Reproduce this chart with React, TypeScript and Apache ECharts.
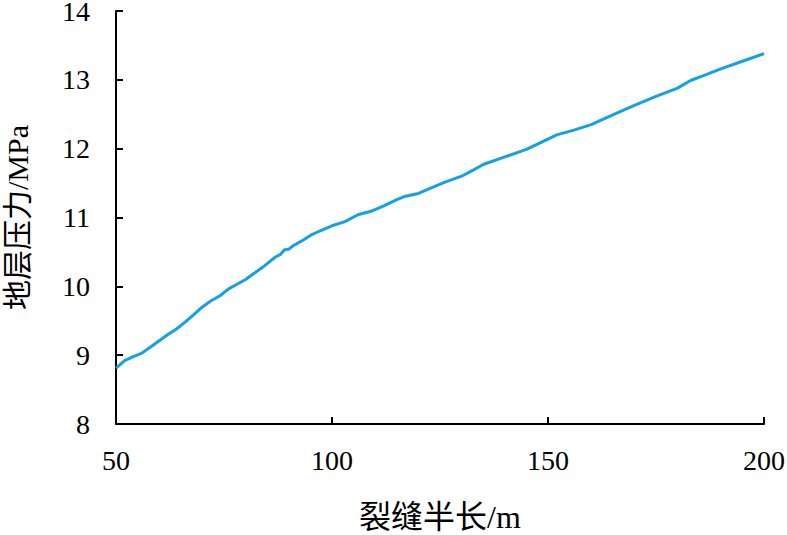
import React, { useEffect, useRef } from "react";
import * as echarts from "echarts";

const halfLength = [50, 52, 54, 56, 58, 60, 62, 64, 66, 68, 70, 72, 74, 76, 78, 80, 82, 84, 86, 87, 88, 89, 90, 91, 93, 95, 97, 100, 103, 106, 109, 112, 115, 117, 120, 123, 126, 130, 133, 135, 140, 145, 150, 152, 156, 160, 165, 170, 175, 180, 183, 186, 190, 195, 200];
const pressure = [8.81, 8.92, 8.98, 9.03, 9.12, 9.21, 9.3, 9.38, 9.48, 9.59, 9.7, 9.79, 9.86, 9.96, 10.03, 10.1, 10.19, 10.28, 10.38, 10.43, 10.46, 10.53, 10.54, 10.59, 10.66, 10.74, 10.8, 10.88, 10.94, 11.04, 11.09, 11.17, 11.26, 11.31, 11.35, 11.43, 11.51, 11.6, 11.7, 11.77, 11.88, 11.99, 12.14, 12.2, 12.27, 12.35, 12.49, 12.63, 12.76, 12.88, 12.99, 13.06, 13.16, 13.27, 13.38];

const xName = "裂缝半长/m";
const yName = "地层压力/MPa";

const font = "Liberation Serif, Noto Sans CJK SC, serif";

export default function App() {
  const ref = useRef<HTMLDivElement>(null);
  useEffect(() => {
    if (!ref.current) return;
    const chart = echarts.init(ref.current, null, { renderer: "svg" });
    chart.setOption({
      animation: false,
      backgroundColor: "#ffffff",
      grid: { left: 116, right: 23, top: 11, bottom: 111, containLabel: false, outerBoundsMode: "none" },
      xAxis: {
        type: "value",
        min: 50,
        max: 200,
        interval: 50,
        name: xName,
        nameLocation: "middle",
        nameGap: 77,
        nameTextStyle: { fontSize: 32, lineHeight: 32, color: "#000", fontFamily: font },
        axisLine: { show: true, lineStyle: { color: "#000", width: 2 } },
        axisTick: { show: true, inside: true, length: 7, lineStyle: { color: "#000", width: 2 } },
        axisLabel: { fontSize: 28, color: "#000", fontFamily: font, margin: 22 },
        splitLine: { show: false },
      },
      yAxis: {
        type: "value",
        min: 8,
        max: 14,
        interval: 1,
        name: yName,
        nameLocation: "middle",
        nameGap: 84,
        nameTextStyle: { fontSize: 30, color: "#000", fontFamily: font },
        axisLine: { show: true, lineStyle: { color: "#000", width: 2 } },
        axisTick: { show: true, inside: true, length: 7, lineStyle: { color: "#000", width: 2 } },
        axisLabel: { fontSize: 28, lineHeight: 22, color: "#000", fontFamily: font, margin: 26 },
        splitLine: { show: false },
      },
      series: [
        {
          type: "line",
          data: halfLength.map((x, i) => [x, pressure[i]]),
          showSymbol: false,
          smooth: false,
          lineStyle: { color: "#13a0e6", width: 3 },
        },
      ],
    });
    return () => chart.dispose();
  }, []);
  return <div ref={ref} style={{ width: 787, height: 535, position: "absolute", left: 0, top: 0 }} />;
}
